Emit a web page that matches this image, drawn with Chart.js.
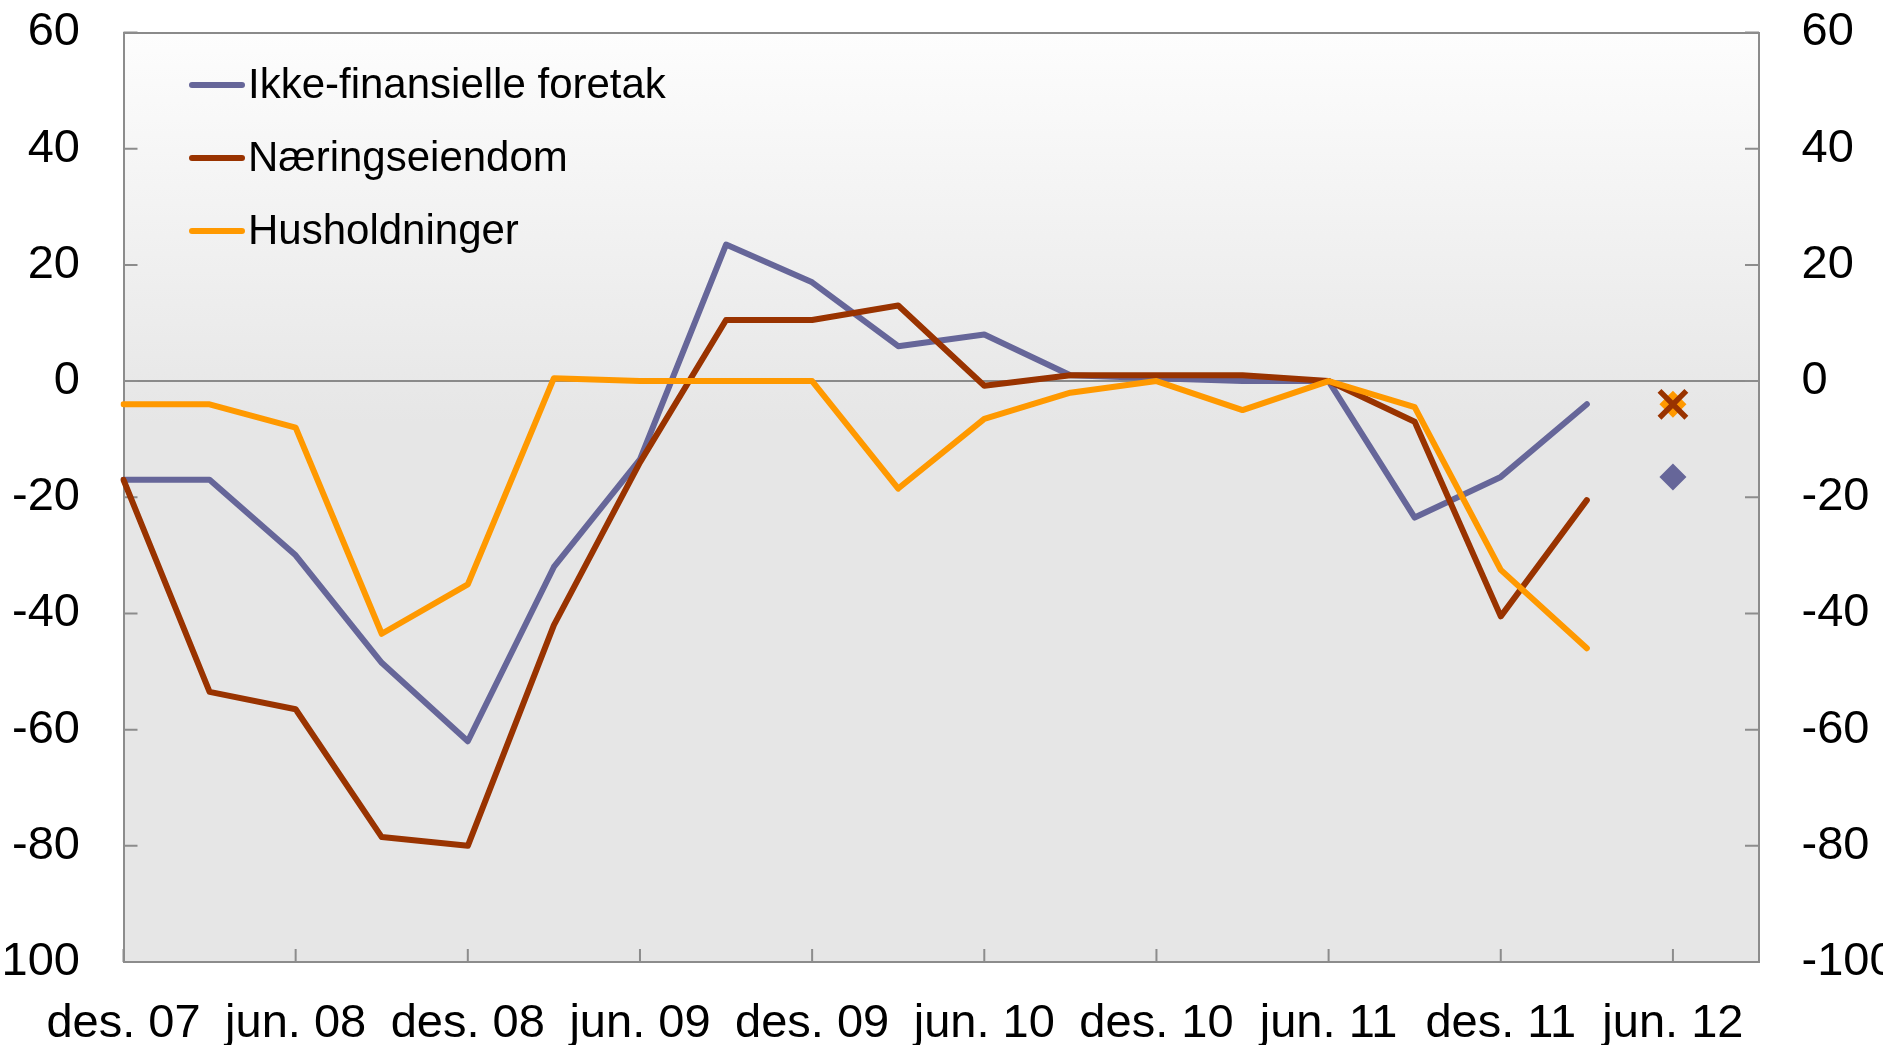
<!DOCTYPE html>
<html>
<head>
<meta charset="utf-8">
<script src="https://cdn.jsdelivr.net/npm/chart.js@4.4.0/dist/chart.umd.min.js"></script>
<style>
html,body{margin:0;padding:0;background:#ffffff;overflow:hidden;}
#wrap{width:1883px;height:1045px;}
</style>
</head>
<body>
<div id="wrap"><canvas id="c" width="1883" height="1045"></canvas></div>
<script>
// ---- Data ----
const categories = ['des. 07','mar. 08','jun. 08','sep. 08','des. 08','mar. 09','jun. 09','sep. 09','des. 09','mar. 10',
                    'jun. 10','sep. 10','des. 10','mar. 11','jun. 11','sep. 11','des. 11','mar. 12','jun. 12','sep. 12'];
const yTickValues = [-100,-80,-60,-40,-20,0,20,40,60];
const seriesNames = ['Ikke-finansielle foretak','Næringseiendom','Husholdninger'];
const ikkeFinansielle = [-17,-17,-30,-48.5,-62,-32,-13.5,23.5,17,6,8,1,0.5,0,0,-23.5,-16.5,-4];
const naeringseiendom = [-17,-53.5,-56.5,-78.5,-80,-42,-14,10.5,10.5,13,-0.8,1,1,1,0,-7,-40.5,-20.5];
const husholdninger   = [-4,-4,-8,-43.5,-35,0.5,0,0,0,-18.5,-6.5,-2,0,-5,0,-4.5,-32.5,-46];
const expectationLabel = 'jun. 12';
const expIkke = -16.5;
const expNaering = -4;
const expHush = -4;

const colors = ['#666699','#993300','#FF9900'];
const FONT = "'Liberation Sans', Arial, sans-serif";
const AXIS_FONT_SIZE = 47;

// ---- Plugins ----
const bgPlugin = {
  id: 'bg',
  beforeDraw(chart) {
    const {ctx, chartArea: a} = chart;
    const g = ctx.createLinearGradient(0, a.top, 0, a.bottom);
    g.addColorStop(0, '#fdfdfd');
    g.addColorStop(0.42, '#e6e6e6');
    g.addColorStop(1, '#e6e6e6');
    ctx.save();
    ctx.fillStyle = g;
    ctx.fillRect(a.left, a.top, a.right - a.left, a.bottom - a.top);
    ctx.restore();
  }
};

const innerTicks = {
  id: 'innerTicks',
  beforeDatasetsDraw(chart) {
    const {ctx, chartArea: a, scales} = chart;
    ctx.save();
    ctx.strokeStyle = '#8c8c8c';
    ctx.lineWidth = 2;
    ctx.beginPath();
    scales.y.ticks.forEach(t => {
      const py = scales.y.getPixelForValue(t.value);
      ctx.moveTo(a.left, py); ctx.lineTo(a.left + 14, py);
      ctx.moveTo(a.right, py); ctx.lineTo(a.right - 14, py);
    });
    scales.x.ticks.forEach((t, i) => {
      if (i % 2) return;
      const px = scales.x.getPixelForTick(i);
      ctx.moveTo(px, a.bottom); ctx.lineTo(px, a.bottom - 13);
    });
    ctx.stroke();
    ctx.restore();
  }
};

const legendPlugin = {
  id: 'customLegend',
  afterDraw(chart) {
    const {ctx, chartArea: a} = chart;
    ctx.save();
    ctx.font = '42px ' + FONT;
    ctx.textBaseline = 'middle';
    ctx.textAlign = 'left';
    for (let i = 0; i < 3; i++) {
      const ds = chart.data.datasets[i];
      const y = a.top + 52.5 + i * 73;
      ctx.strokeStyle = ds.borderColor;
      ctx.lineWidth = 6;
      ctx.lineCap = 'round';
      ctx.beginPath();
      ctx.moveTo(a.left + 68.5, y);
      ctx.lineTo(a.left + 118.5, y);
      ctx.stroke();
      ctx.fillStyle = '#000';
      ctx.fillText(ds.label, a.left + 124.5, y + 1);
    }
    ctx.restore();
  }
};

// ---- Chart ----
const lineDs = (label, data, color, order) => ({
  label, data, borderColor: color, backgroundColor: color,
  borderWidth: 6, pointRadius: 0, tension: 0, fill: false,
  borderJoinStyle: 'round', borderCapStyle: 'round', order
});

const fixYPadding = s => { s.paddingTop = 10; s.paddingBottom = 10; };

new Chart(document.getElementById('c'), {
  type: 'line',
  data: {
    labels: categories,
    datasets: [
      lineDs(seriesNames[0], ikkeFinansielle, colors[0], 3),
      lineDs(seriesNames[1], naeringseiendom, colors[1], 2),
      lineDs(seriesNames[2], husholdninger, colors[2], 1),
      { label: 'exp1', data: [{x: expectationLabel, y: expIkke}], showLine: false,
        pointStyle: 'rectRot', pointRadius: 13.5, backgroundColor: colors[0], borderWidth: 0, order: 0 },
      { label: 'exp3', data: [{x: expectationLabel, y: expHush}], showLine: false,
        pointStyle: 'rectRot', pointRadius: 13.5, backgroundColor: colors[2], borderWidth: 0, order: 0 },
      { label: 'exp2', data: [{x: expectationLabel, y: expNaering}], showLine: false,
        pointStyle: 'crossRot', pointRadius: 19, borderColor: colors[1], backgroundColor: colors[1], borderWidth: 5.5, order: -1 }
    ]
  },
  options: {
    responsive: false,
    animation: false,
    devicePixelRatio: 1,
    layout: { padding: { top: 32.5, left: 0, right: 0, bottom: 0 } },
    plugins: { legend: { display: false }, tooltip: { enabled: false } },
    elements: { point: { hoverRadius: 0 } },
    scales: {
      x: {
        type: 'category',
        offset: false,
        grid: { drawOnChartArea: false, drawTicks: false },
        border: { display: true, color: '#8c8c8c', width: 2 },
        ticks: {
          autoSkip: false, maxRotation: 0, minRotation: 0, padding: 34,
          color: '#000', font: { family: FONT, size: AXIS_FONT_SIZE },
          callback: function(v, i) { return i % 2 === 0 ? this.getLabelForValue(v) : ''; }
        },
        afterFit: s => { s.height = 83; s.paddingLeft = 0; s.paddingRight = 0; }
      },
      y: {
        position: 'left', min: -100, max: 60,
        afterBuildTicks: s => { s.ticks = yTickValues.map(v => ({value: v})); },
        grid: {
          drawOnChartArea: true, drawTicks: false, lineWidth: 2,
          color: c => (c.tick && (c.tick.value === 0 || c.tick.value === 60)) ? '#8a8a8a' : 'rgba(0,0,0,0)'
        },
        border: { display: true, color: '#8c8c8c', width: 2 },
        ticks: { padding: 43.5, color: '#000', font: { family: FONT, size: AXIS_FONT_SIZE } },
        afterFit: s => { s.width = 123.5; fixYPadding(s); }
      },
      y2: {
        position: 'right', min: -100, max: 60,
        afterBuildTicks: s => { s.ticks = yTickValues.map(v => ({value: v})); },
        grid: { drawOnChartArea: false, drawTicks: false },
        border: { display: true, color: '#8c8c8c', width: 2 },
        ticks: { padding: 42.5, color: '#000', font: { family: FONT, size: AXIS_FONT_SIZE } },
        afterFit: s => { s.width = 124; fixYPadding(s); }
      }
    }
  },
  plugins: [bgPlugin, innerTicks, legendPlugin]
});
</script>
</body>
</html>
